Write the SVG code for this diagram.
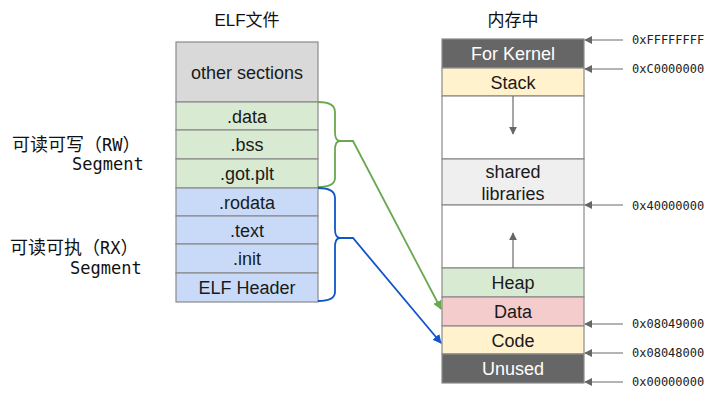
<svg xmlns="http://www.w3.org/2000/svg" width="724" height="402" viewBox="0 0 724 402">
<style>
.lbl{font-family:"Liberation Sans",Arial,sans-serif;font-size:18px;fill:#1a1a1a;text-anchor:middle}
.wl{fill:#ffffff}
.cell{stroke:#8a8a8a;stroke-width:1.2}
.addr{font-family:"DejaVu Sans Mono",monospace;font-size:12px;fill:#222}
.seg{font-family:"DejaVu Sans Mono","Noto Sans CJK SC",monospace;font-size:17px;fill:#111}
.cjk{font-size:18px}
.title{font-family:"Liberation Sans","Noto Sans CJK SC",sans-serif;font-size:17px;fill:#111;text-anchor:middle}
.al{stroke:#6b6b6b;stroke-width:1.2;fill:none}
</style>
<defs>
<marker id="ag" viewBox="0 0 10 10" refX="9" refY="5" markerWidth="8" markerHeight="8" markerUnits="userSpaceOnUse" orient="auto"><path d="M0,0L10,5L0,10z" fill="#666"/></marker>
<marker id="agr" viewBox="0 0 10 10" refX="9" refY="5" markerWidth="9" markerHeight="9" markerUnits="userSpaceOnUse" orient="auto"><path d="M0,0L10,5L0,10z" fill="#6aa84f"/></marker>
<marker id="abl" viewBox="0 0 10 10" refX="9" refY="5" markerWidth="9" markerHeight="9" markerUnits="userSpaceOnUse" orient="auto"><path d="M0,0L10,5L0,10z" fill="#1155cc"/></marker>
</defs>
<rect width="724" height="402" fill="#ffffff"/>
<text class="title" x="247" y="26">ELF文件</text>
<text class="title" x="513" y="26">内存中</text>

<g id="elf">
<g id="elf-other"><rect class="cell" x="176" y="42" width="142" height="60" fill="#d9d9d9"/><text class="lbl" x="247" y="78.5">other sections</text></g>
<g id="elf-data"><rect class="cell" x="176" y="102" width="142" height="28" fill="#d9ead3"/><text class="lbl" x="247" y="122.5">.data</text></g>
<g id="elf-bss"><rect class="cell" x="176" y="130" width="142" height="29" fill="#d9ead3"/><text class="lbl" x="247" y="151">.bss</text></g>
<g id="elf-gotplt"><rect class="cell" x="176" y="159" width="142" height="29" fill="#d9ead3"/><text class="lbl" x="247" y="180">.got.plt</text></g>
<g id="elf-rodata"><rect class="cell" x="176" y="188" width="142" height="28" fill="#c9daf8"/><text class="lbl" x="247" y="208.5">.rodata</text></g>
<g id="elf-text"><rect class="cell" x="176" y="216" width="142" height="28" fill="#c9daf8"/><text class="lbl" x="247" y="236.5">.text</text></g>
<g id="elf-init"><rect class="cell" x="176" y="244" width="142" height="29" fill="#c9daf8"/><text class="lbl" x="247" y="265">.init</text></g>
<g id="elf-header"><rect class="cell" x="176" y="273" width="142" height="29" fill="#c9daf8"/><text class="lbl" x="247" y="294">ELF Header</text></g>
</g>

<g id="mem">
<g id="mem-kernel"><rect class="cell" x="442" y="39" width="142" height="29" fill="#666666"/><text class="lbl wl" x="513" y="60">For Kernel</text></g>
<g id="mem-stack"><rect class="cell" x="442" y="68" width="142" height="28" fill="#fff2cc"/><text class="lbl" x="513" y="88.5">Stack</text></g>
<g id="mem-gap1"><rect class="cell" x="442" y="96" width="142" height="63" fill="#ffffff"/></g>
<g id="mem-shared"><rect class="cell" x="442" y="159" width="142" height="46" fill="#efefef"/><text class="lbl" x="513" y="178">shared</text><text class="lbl" x="513" y="200">libraries</text></g>
<g id="mem-gap2"><rect class="cell" x="442" y="205" width="142" height="63" fill="#ffffff"/></g>
<g id="mem-heap"><rect class="cell" x="442" y="268" width="142" height="29" fill="#d9ead3"/><text class="lbl" x="513" y="289">Heap</text></g>
<g id="mem-data"><rect class="cell" x="442" y="297" width="142" height="29" fill="#f4cccc"/><text class="lbl" x="513" y="318">Data</text></g>
<g id="mem-code"><rect class="cell" x="442" y="326" width="142" height="28" fill="#fff2cc"/><text class="lbl" x="513" y="346.5">Code</text></g>
<g id="mem-unused"><rect class="cell" x="442" y="354" width="142" height="29" fill="#666666"/><text class="lbl wl" x="513" y="375">Unused</text></g>
</g>

<g id="labels">
<text class="seg" x="12" y="151"><tspan class="cjk">可读可写（</tspan>RW<tspan class="cjk">）</tspan></text>
<text class="seg" x="72" y="170">Segment</text>
<text class="seg" x="10" y="254"><tspan class="cjk">可读可执（</tspan>RX<tspan class="cjk">）</tspan></text>
<text class="seg" x="70" y="274">Segment</text>
<text class="addr" x="632" y="44">0xFFFFFFFF</text>
<text class="addr" x="632" y="73">0xC0000000</text>
<text class="addr" x="632" y="210">0x40000000</text>
<text class="addr" x="632" y="328">0x08049000</text>
<text class="addr" x="632" y="357">0x08048000</text>
<text class="addr" x="632" y="386">0x00000000</text>
</g>

<g id="connectors">
<path d="M318,102 Q335,102 335,112 L335,132 Q335,141 340,141 Q335,141 335,150 L335,178 Q335,187 318,187" fill="none" stroke="#6aa84f" stroke-width="1.8"/>
<path d="M340,141 L353,141 L441,309" fill="none" stroke="#6aa84f" stroke-width="1.8" marker-end="url(#agr)"/>
<path d="M318,188 Q335,188 335,198 L335,229 Q335,238 340,238 Q335,238 335,247 L335,292 Q335,301 318,301" fill="none" stroke="#1155cc" stroke-width="1.8"/>
<path d="M340,238 L353,238 L441,343" fill="none" stroke="#1155cc" stroke-width="1.8" marker-end="url(#abl)"/>
<line class="al" x1="513" y1="96" x2="513" y2="134" marker-end="url(#ag)"/>
<line class="al" x1="513" y1="268" x2="513" y2="233" marker-end="url(#ag)"/>
<line class="al" x1="623" y1="40" x2="585" y2="40" marker-end="url(#ag)"/>
<line class="al" x1="623" y1="69" x2="585" y2="69" marker-end="url(#ag)"/>
<line class="al" x1="623" y1="205" x2="585" y2="205" marker-end="url(#ag)"/>
<line class="al" x1="623" y1="324" x2="585" y2="324" marker-end="url(#ag)"/>
<line class="al" x1="623" y1="353" x2="585" y2="353" marker-end="url(#ag)"/>
<line class="al" x1="623" y1="382" x2="585" y2="382" marker-end="url(#ag)"/>
</g>
</svg>
